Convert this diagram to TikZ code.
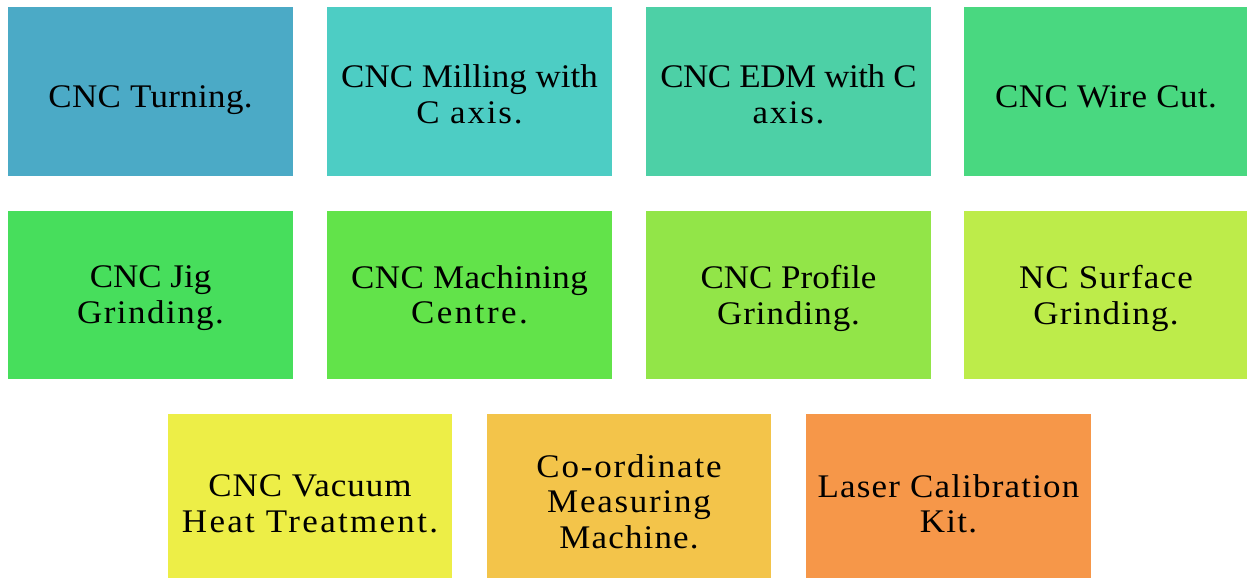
\documentclass[tikz,border=0pt]{standalone}
\usepackage{fontspec}
\setmainfont{Liberation Serif}[FakeStretch=1.06]
% letter-spaced line of text
\newcommand{\tracked}[2]{{\addfontfeature{LetterSpace=#1}#2}}
\definecolor{cA}{RGB}{75,170,198}
\definecolor{cB}{RGB}{77,205,196}
\definecolor{cC}{RGB}{77,208,166}
\definecolor{cD}{RGB}{73,216,128}
\definecolor{cE}{RGB}{71,222,92}
\definecolor{cF}{RGB}{98,227,74}
\definecolor{cG}{RGB}{146,229,72}
\definecolor{cH}{RGB}{189,236,74}
\definecolor{cI}{RGB}{237,238,71}
\definecolor{cJ}{RGB}{243,196,74}
\definecolor{cK}{RGB}{246,151,73}
\tikzset{
  tile/.style={rectangle, draw=none, fill=#1, minimum width=284.5pt, minimum height=168pt,
    inner sep=0pt},
  tiletext/.style={inner sep=0pt, align=center, text=black,
    font=\fontsize{33}{35.5}\selectfont,
    execute at begin node=\strut, execute at end node=\strut}
}
\begin{document}
\begin{tikzpicture}[x=1pt,y=-1pt]
  \useasboundingbox (0,0) rectangle (1247,578);
  % first row
  \node[tile=cA] (turning) at (150.5,91.5) {};
  \node[tile=cB] (milling) at (469.5,91.5) {};
  \node[tile=cC] (edm) at (788.5,91.5) {};
  \node[tile=cD] (wire) at (1106,91.5) {};
  % second row
  \node[tile=cE] (jig) at (150.5,294.5) {};
  \node[tile=cF] (machining) at (469.5,294.5) {};
  \node[tile=cG] (profile) at (788.5,294.5) {};
  \node[tile=cH] (surface) at (1106,294.5) {};
  % third row
  \node[tile=cI] (vacuum) at (310,497.5) {};
  \node[tile=cJ] (cmm) at (629,497.5) {};
  \node[tile=cK] (laser) at (948.5,497.5) {};
  % labels
  \node[tiletext] at ([yshift=-8.4pt]turning.center) {\tracked{1}{CNC Turning.}};
  \node[tiletext] at ([yshift=-8pt]milling.center) {CNC Milling with\\\tracked{5.5}{C axis.}};
  \node[tiletext] at ([yshift=-8pt]edm.center) {\tracked{-1.5}{CNC EDM with C}\\\tracked{5}{axis.}};
  \node[tiletext] at ([yshift=-8.4pt]wire.center) {\tracked{1.4}{CNC Wire Cut.}};
  \node[tiletext] at ([yshift=-5.5pt]jig.center) {CNC Jig\\\tracked{4.5}{Grinding.}};
  \node[tiletext] at ([yshift=-5.5pt]machining.center) {\tracked{1.2}{CNC Machining}\\\tracked{7.5}{Centre.}};
  \node[tiletext] at ([yshift=-5.5pt]profile.center) {CNC Profile\\\tracked{3}{Grinding.}};
  \node[tiletext] at ([yshift=-5.5pt]surface.center) {\tracked{3.7}{NC Surface}\\\tracked{3.8}{Grinding.}};
  \node[tiletext] at ([yshift=-11.2pt]vacuum.center) {\tracked{3}{CNC Vacuum}\\\tracked{7}{Heat Treatment.}};
  \node[tiletext] at ([yshift=-9.2pt]cmm.center) {\tracked{5.5}{Co-ordinate}\\\tracked{5.3}{Measuring}\\\tracked{3.5}{Machine.}};
  \node[tiletext] at ([yshift=-11.2pt]laser.center) {\tracked{3.6}{Laser Calibration}\\\tracked{4}{Kit.}};
\end{tikzpicture}
\end{document}
